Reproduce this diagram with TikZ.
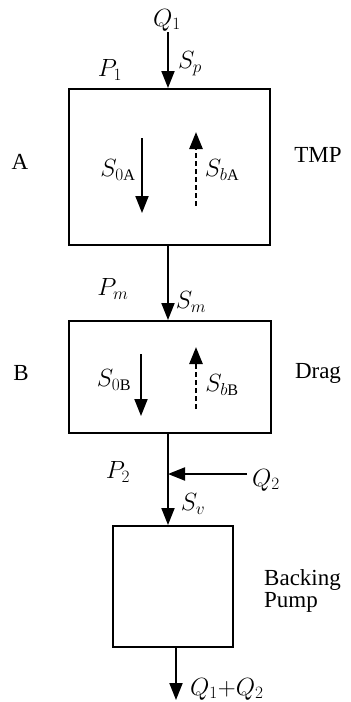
\documentclass[tikz,border=0pt]{standalone}
\usepackage{fontspec}
\setmainfont{Liberation Serif}
\usetikzlibrary{arrows.meta,calc}
\begin{document}
\begin{tikzpicture}[x=1pt,y=-1pt,
  font=\fontsize{23}{25}\selectfont,
  stage/.style={draw,line width=2pt,inner sep=0pt},
  flow/.style={line width=2pt,-{Triangle[length=17pt,width=13pt]}},
  back/.style={flow,dash pattern=on 5pt off 3pt,line width=2.6pt},
  lbl/.style={inner sep=0pt}]
\useasboundingbox (0,0) rectangle (351,702);

% pump stages
\node[stage,minimum width=201pt,minimum height=156pt] (boxA) at (169.5,167) {};
\node[stage,minimum width=202pt,minimum height=112pt] (boxB) at (170,377) {};
\node[stage,minimum width=120pt,minimum height=121pt] (pump) at (173,586.5) {};

% side labels
\node[lbl] (labA) at (20,162) {A};
\node[lbl] (labB) at (21,373) {B};
\node[lbl] (tmp) at (318,155) {TMP};
\node[lbl] (drag) at (318,373) {Drag};
\node[lbl,anchor=west,align=left] (bp) at (264,591) {Backing\\[-3pt]Pump};

% gas flow along the main line
\node[lbl] (Q1) at (167,20) {$Q_1$};
\coordinate (top) at (168,32);
\draw[flow] (top) -- (top |- boxA.north);
\node[lbl] (P1) at (110,70) {$P_1$};
\node[lbl] (Sp) at (190,64) {$S_p$};

\draw[flow] (boxA.south -| top) -- (boxB.north -| top);
\node[lbl] (Pm) at (113,289) {$P_m$};
\node[lbl] (Sm) at (191,302) {$S_m$};

\coordinate (j) at (168,474);
\draw[flow] (boxB.south -| top) -- (pump.north -| top);
\node[lbl,anchor=west] (Q2) at (252,480) {$Q_2$};
\draw[flow] (Q2.west |- j) ++(-5,0) -- (j);
\node[lbl] (P2) at (118,472) {$P_2$};
\node[lbl] (Sv) at (193,504) {$S_v$};

\coordinate (outtop) at (176,647);
\coordinate (out) at (176,700);
\draw[flow] (outtop) -- (out);
\node[lbl,anchor=west] (Qsum) at (190,689) {$Q_1{+}Q_2$};

% forward and back flow inside stage A
\coordinate (a1) at (142,138);
\coordinate (a2) at (142,213);
\draw[flow] (a1) -- (a2);
\coordinate (b1) at (196,206);
\coordinate (b2) at (196,132);
\draw[back] (b1) -- (b2);
\node[lbl] (S0A) at (118,170) {$S_{0\mathrm{A}}$};
\node[lbl] (SbA) at (222,170) {$S_{b\mathrm{A}}$};

% forward and back flow inside stage B
\coordinate (c1) at (141,354);
\coordinate (c2) at (141,416);
\draw[flow] (c1) -- (c2);
\coordinate (d1) at (196,409);
\coordinate (d2) at (196,347);
\draw[back] (d1) -- (d2);
\node[lbl] (S0B) at (114,380) {$S_{0\mathrm{B}}$};
\node[lbl] (SbB) at (222,385) {$S_{b\mathrm{B}}$};
\end{tikzpicture}
\end{document}
